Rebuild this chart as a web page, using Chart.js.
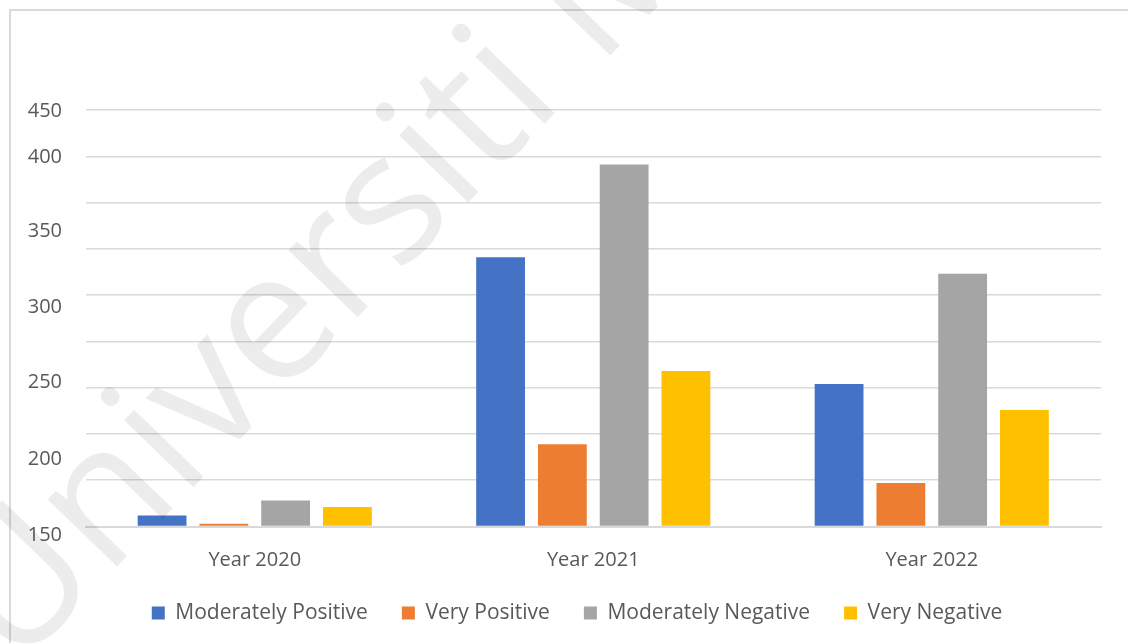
<!DOCTYPE html>
<html>
<head>
<meta charset="utf-8">
<script src="https://cdn.jsdelivr.net/npm/chart.js@4"></script>
<style>
  html, body { margin: 0; padding: 0; background: #ffffff; }
  #wrap { width: 1128px; height: 643px; position: relative; }
</style>
</head>
<body>
<div id="wrap"><canvas id="c" width="1128" height="643"></canvas></div>
<script>
// ---- data ----
const categories = ['Year 2020', 'Year 2021', 'Year 2022'];
const seriesNames = ['Moderately Positive', 'Very Positive', 'Moderately Negative', 'Very Negative'];
const moderatelyPositive = [12, 291, 154];
const veryPositive = [3, 89, 47];
const moderatelyNegative = [28, 391, 273];
const veryNegative = [21, 168, 126];
const tickLabels = ['450', '400', '350', '300', '250', '200', '150'];
const watermarkText = 'Universiti Malaya';

const colors = ['#4472C4', '#ED7D31', '#A5A5A5', '#FFC000'];
const seriesValues = [moderatelyPositive, veryPositive, moderatelyNegative, veryNegative];
const textColor = '#595959';
const FONT = '"Open Sans", "DejaVu Sans", sans-serif';

const frame = {
  id: 'frame',
  beforeDraw(chart) {
    const ctx = chart.ctx;
    ctx.save();
    ctx.fillStyle = '#ffffff';
    ctx.fillRect(0, 0, chart.width, chart.height);
    ctx.strokeStyle = '#d9d9d9';
    ctx.lineWidth = 2;
    ctx.beginPath();
    ctx.moveTo(10, chart.height + 2);
    ctx.lineTo(10, 10);
    ctx.lineTo(chart.width + 2, 10);
    ctx.stroke();
    ctx.restore();
  }
};

const watermark = {
  id: 'watermark',
  afterDraw(chart) {
    const ctx = chart.ctx;
    ctx.save();
    ctx.translate(15, 672);
    ctx.rotate(-46 * Math.PI / 180);
    ctx.font = '180px ' + FONT;
    ctx.fillStyle = 'rgba(0,0,0,0.075)';
    ctx.textBaseline = 'alphabetic';
    ctx.fillText(watermarkText, 0, 0);
    ctx.restore();
  }
};

new Chart(document.getElementById('c'), {
  type: 'bar',
  data: {
    labels: categories,
    datasets: seriesNames.map((name, i) => ({
      label: name,
      data: seriesValues[i],
      backgroundColor: colors[i],
      borderWidth: 0,
      categoryPercentage: 0.73,
      barPercentage: 0.79,
      yAxisID: 'y'
    }))
  },
  options: {
    responsive: false,
    devicePixelRatio: 1,
    animation: false,
    layout: { padding: { left: 0.5, right: -25.5, top: 110, bottom: 9.5 } },
    plugins: {
      tooltip: { enabled: false },
      legend: {
        position: 'bottom',
        labels: {
          boxWidth: 13,
          boxHeight: 13,
          padding: 34,
          color: textColor,
          font: { family: FONT, size: 21 }
        }
      }
    },
    scales: {
      x: {
        grid: { display: false, drawTicks: false },
        border: { color: '#d9d9d9', width: 2 },
        ticks: { color: textColor, font: { family: FONT, size: 20, lineHeight: '19px' }, padding: 24 },
        afterFit(axis) { axis.height = 42; }
      },
      y: {
        position: 'left',
        min: 0,
        max: 450,
        ticks: { stepSize: 50, display: false },
        grid: { color: '#d9d9d9', lineWidth: 1.5, drawTicks: false },
        border: { display: false },
        afterFit(axis) { axis.width = 0; }
      },
      yLabels: {
        position: 'left',
        min: 0,
        max: 450,
        grid: { display: false, drawTicks: false },
        border: { display: false },
        afterBuildTicks(axis) {
          // label placement on the (0–450) value scale, as drawn in the original
          const at = [449, 399, 319, 237, 156, 73, -9];
          axis.ticks = at.map(v => ({ value: v }));
        },
        ticks: {
          autoSkip: false,
          padding: 23.5,
          color: textColor,
          font: { family: FONT, size: 20 },
          callback: (v, i) => tickLabels[i]
        },
        afterFit(axis) { axis.width = 85; }
      },
      yRight: {
        position: 'right',
        min: 0,
        max: 450,
        ticks: { display: false },
        grid: { display: false, drawTicks: false },
        border: { display: false },
        afterFit(axis) { axis.width = 52.5; }
      }
    }
  },
  plugins: [frame, watermark]
});
</script>
</body>
</html>
